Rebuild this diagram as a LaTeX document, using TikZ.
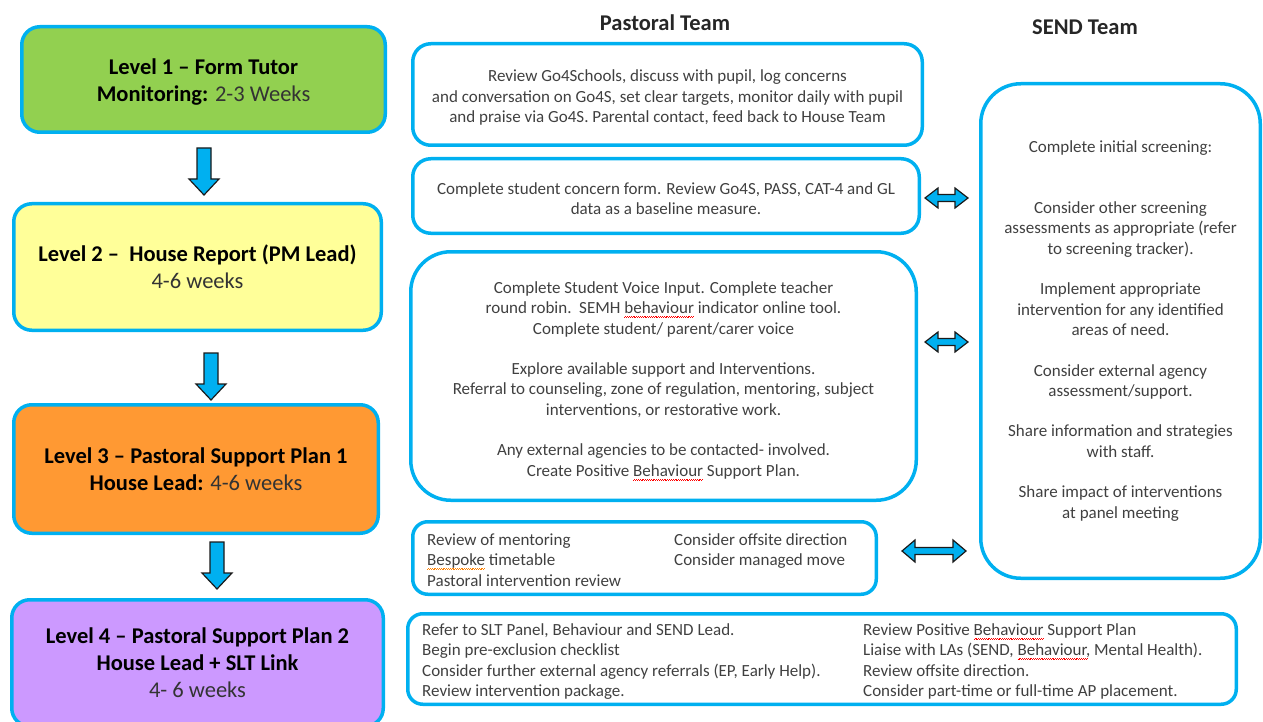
\documentclass[tikz,border=0pt]{standalone}
\usepackage{fontspec}
\setmainfont{Carlito}
\definecolor{cyanb}{HTML}{00B0F0}
\definecolor{lvgreen}{HTML}{92D050}
\definecolor{lvyellow}{HTML}{FFFF99}
\definecolor{lvorange}{HTML}{FF9933}
\definecolor{lvpurple}{HTML}{CC99FF}
\definecolor{txtgrey}{HTML}{404040}
\definecolor{weekgrey}{HTML}{333333}
\definecolor{arrline}{HTML}{1A1A1A}
\newcommand\squigw[2]{\setbox0=\hbox{#2}\rlap{\textcolor{#1}{\hbox to \wd0{\xleaders\hbox{\rule[-4.2pt]{0.9pt}{0.7pt}\rule[-3.4pt]{0.9pt}{0.7pt}}\hfill}}}#2}
\newcommand\redsq[1]{\squigw{red}{#1}}
\newcommand\orsq[1]{\squigw{orange}{#1}}
\newcommand\bodyfont{\fontsize{17}{20.3}\selectfont}
\newcommand\lvlfont{\fontsize{22.5}{27}\selectfont\bfseries}
\newcommand\wk[1]{{\mdseries\color{weekgrey}#1}}
\tikzset{
  box/.style={draw=cyanb, line width=3.5pt, rounded corners=18pt, align=center,
    inner sep=0pt, text=txtgrey, font=\bodyfont},
  lvl/.style={box, font=\lvlfont, text=black},
  hdr/.style={font=\fontsize{22.5}{26}\selectfont\bfseries, text=black!85},
  txt/.style={inner sep=0pt, text=txtgrey, font=\bodyfont, align=left},
  ctxt/.style={inner sep=0pt, text=txtgrey, font=\bodyfont, align=center},
  pics/dnarrow/.style={code={
    \draw[fill=cyanb, draw=arrline, line width=1.2pt]
      (-7,0) -- (-7,31) -- (-15,31) -- (0,47) -- (15,31) -- (7,31) -- (7,0) -- cycle;}},
  pics/dblarrow/.style args={#1/#2}{code={
    \draw[fill=cyanb, draw=arrline, line width=1.2pt]
      (-#1,0) -- (-#1+13,-#2) -- (-#1+13,-3.5) -- (#1-13,-3.5) -- (#1-13,-#2)
      -- (#1,0) -- (#1-13,#2) -- (#1-13,3.5) -- (-#1+13,3.5) -- (-#1+13,#2) -- cycle;}}
}
\begin{document}
\begin{tikzpicture}[x=1pt,y=-1pt]
\useasboundingbox (0,0) rectangle (1263,722);

% headers
\node[hdr] (hp) at (665,23) {Pastoral Team};
\node[hdr] (hs) at (1085,27) {SEND Team};

% level boxes
\node[lvl, fill=lvgreen, minimum width=363.5pt, minimum height=105.5pt] (l1) at (203.5,79.5) {};
\node[lvl, draw=none, fill=none] (l1t) at (203.5,82)
  {Level 1 – Form Tutor\\Monitoring: \wk{2-3 Weeks}};
\node[lvl, fill=lvyellow, minimum width=367.5pt, minimum height=126.5pt] (l2) at (197.5,267)
  {Level 2 –\ \ House Report (PM Lead)\\\wk{4-6 weeks}};
\node[lvl, fill=lvorange, minimum width=364.5pt, minimum height=128.5pt] (l3) at (196,469)
  {Level 3 – Pastoral Support Plan 1\\House Lead: \wk{4-6 weeks}};
\node[lvl, fill=lvpurple, minimum width=371.5pt, minimum height=126.5pt] (l4) at (197.5,663)
  {Level 4 – Pastoral Support Plan 2\\House Lead + SLT Link\\\wk{4- 6 weeks}};

% down arrows
\pic (d1) at (204,148) {dnarrow};
\pic (d2) at (211,353) {dnarrow};
\pic (d3) at (217,542) {dnarrow};

% pastoral boxes
\node[box, minimum width=509.5pt, minimum height=101.5pt] (p1) at (667.5,94.5) {};
\node[ctxt] (p1t) at (667.5,97.5)
  {Review Go4Schools, discuss with pupil, log concerns\\
   and conversation on Go4S, set clear targets, monitor daily with pupil\\
   and praise via Go4S. Parental contact, feed back to House Team};
\node[box, minimum width=506.5pt, minimum height=74.5pt] (p2) at (666,196) {};
\node[ctxt] (p2t) at (666,198.5)
  {Complete student concern form. Review Go4S, PASS, CAT-4 and GL\\
   data as a baseline measure.};
\node[box, rounded corners=40pt, minimum width=505.5pt, minimum height=248.5pt] (p3) at (663.5,376) {};
\node[ctxt] (p3t) at (663.5,381)
  {Complete Student Voice Input. Complete teacher\\
   round robin.\ \ SEMH \redsq{behaviour} indicator online tool.\\
   Complete student/ parent/carer voice\\[20.3pt]
   Explore available support and Interventions.\\
   Referral to counseling, zone of regulation, mentoring, subject\\
   interventions, or restorative work.\\[20.3pt]
   Any external agencies to be contacted- involved.\\
   Create Positive \redsq{Behaviour} Support Plan.};
\node[box, rounded corners=15pt, minimum width=463.5pt, minimum height=72.5pt] (p4) at (644.5,558) {};
\node[txt, anchor=north west] (p4a) at (427,531)
  {\begin{tabular}{@{}l@{}}Review of mentoring\\\orsq{Bespoke} timetable\\Pastoral intervention review\end{tabular}};
\node[txt, anchor=north west] (p4b) at (674,531)
  {\begin{tabular}{@{}l@{}}Consider offsite direction\\Consider managed move\end{tabular}};
\node[box, rounded corners=15pt, minimum width=828.5pt, minimum height=90.5pt] (p5) at (822,659) {};
\node[txt, anchor=north west] (p5a) at (422,621)
  {\begin{tabular}{@{}l@{}}Refer to SLT Panel, Behaviour and SEND Lead.\\
   Begin pre-exclusion checklist\\
   Consider further external agency referrals (EP, Early Help).\\
   Review intervention package.\end{tabular}};
\node[txt, anchor=north west] (p5b) at (863,621)
  {\begin{tabular}{@{}l@{}}Review Positive \redsq{Behaviour} Support Plan\\
   Liaise with LAs (SEND, \redsq{Behaviour}, Mental Health).\\
   Review offsite direction.\\
   Consider part-time or full-time AP placement.\end{tabular}};

% SEND box
\node[box, rounded corners=40pt, minimum width=279.5pt, minimum height=494.5pt] (s) at (1120.5,331)
  {Complete initial screening:\\[40.6pt]
   Consider other screening\\
   assessments as appropriate (refer\\
   to screening tracker).\\[20.3pt]
   Implement appropriate\\
   intervention for any identified\\
   areas of need.\\[20.3pt]
   Consider external agency\\
   assessment/support.\\[20.3pt]
   Share information and strategies\\
   with staff.\\[20.3pt]
   Share impact of interventions\\
   at panel meeting};

% double arrows
\pic (a1) at (946.5,198) {dblarrow={21.5/10}};
\pic (a2) at (946.5,342) {dblarrow={21.5/10}};
\pic (a3) at (934,551) {dblarrow={32/11}};
\end{tikzpicture}
\end{document}
